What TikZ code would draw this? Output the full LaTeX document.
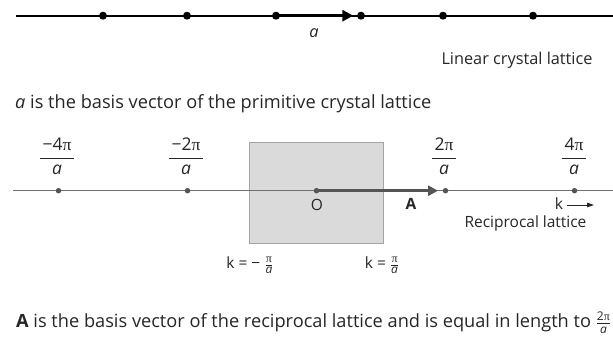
\documentclass[tikz,border=0pt]{standalone}
\usepackage{fontspec}
\setmainfont{Open Sans}
\newfontfamily\pifont{Liberation Serif}
\usetikzlibrary{arrows.meta}
\definecolor{txt}{HTML}{262626}
\definecolor{rline}{HTML}{707070}
\definecolor{rdark}{HTML}{555555}
\definecolor{boxfill}{HTML}{DADADA}
\definecolor{boxedge}{HTML}{A4A4A4}
\newcommand{\piglyph}{{\pifont π}}
\newcommand{\bigfrac}[2]{$\displaystyle\frac{\mbox{\,#1\,}}{\mbox{\itshape #2}}$}
\newcommand{\smallfrac}[3]{$\frac{\mbox{\fontsize{#1}{#1}\selectfont #2}}{\mbox{\fontsize{#1}{#1}\selectfont\itshape #3}}$}
\tikzset{
  lbl/.style={font=\fontsize{16.3}{19}\selectfont, text=txt, inner sep=0pt},
  sent/.style={font=\fontsize{18.2}{21}\selectfont, text=txt, inner sep=0pt},
  sm/.style={font=\fontsize{15.5}{18}\selectfont, text=txt, inner sep=0pt},
  fr/.style={font=\fontsize{17.5}{20}\selectfont, text=txt, inner sep=0pt, anchor=base},
  bdot/.style={circle, fill=black, inner sep=0pt, minimum size=8pt},
  rdot/.style={circle, fill=rdark, inner sep=0pt, minimum size=5.5pt},
}
\begin{document}
\begin{tikzpicture}[x=1pt,y=-1pt]
\useasboundingbox (0,0) rectangle (613,341);
% ---------- linear crystal lattice ----------
\coordinate (tl) at (15.7,15.7);
\coordinate (tr) at (613,15.7);
\draw[line width=2pt] (tl) -- (tr);
\foreach \n/\x in {d1/103,d2/187,d3/276,d4/361,d5/443,d6/533}
  \node[bdot] (\n) at (\x,15.7) {};
\draw[line width=3.2pt, -{Triangle[length=11pt,width=11pt]}, shorten >=3.5pt] (d3.center) -- (d4.west);
\node[lbl] (la) at (314,33) {\itshape a};
\node[lbl] (lin) at (517,60) {Linear crystal lattice};
\node[sent, anchor=west] (t1) at (15,104) {\itshape a\upshape\ is the basis vector of the primitive crystal lattice};
% ---------- reciprocal lattice ----------
\node[draw=boxedge, fill=boxfill, line width=0.8pt, minimum width=134pt, minimum height=101pt, inner sep=0pt] (bz) at (316,192.5) {};
\coordinate (rl) at (13,190.7);
\coordinate (rr) at (613,190.7);
\draw[rline, line width=1.5pt] (rl) -- (rr);
\foreach \n/\x in {r1/58.5,r2/187.5,r3/316.5,r4/445.5,r5/574.5}
  \node[rdot] (\n) at (\x,190.7) {};
\draw[rdark, line width=3.4pt, -{Triangle[length=10pt,width=10pt]}, shorten >=4.5pt] (r3.center) -- (r4.west);
\node[fr] (f1) at (57,162.3) {\bigfrac{−4\piglyph}{a}};
\node[fr] (f2) at (186,162.3) {\bigfrac{−2\piglyph}{a}};
\node[fr] (f4) at (444,162.3) {\bigfrac{2\piglyph}{a}};
\node[fr] (f5) at (574,162.3) {\bigfrac{4\piglyph}{a}};
\node[sm] (lo) at (317,205) {O};
\node[sm] (lA) at (411,204) {\bfseries A};
\node[sm] (lk) at (559,204) {k};
\coordinate (ka) at (567,205);
\coordinate (kb) at (594,205);
\draw[txt, line width=0.9pt, -{Triangle[length=7pt,width=4.5pt]}] (ka) -- (kb);
\node[sm] (rec) at (525.5,223) {Reciprocal lattice};
\node[sm] (km) at (250,265) {k = − \smallfrac{12}{\piglyph}{a}};
\node[sm] (kp) at (382,265) {k = \smallfrac{12}{\piglyph}{a}};
\node[sent, anchor=west] (t2) at (16,323) {\bfseries A\mdseries\ is the basis vector of the reciprocal lattice and is equal in length to \smallfrac{12}{2\piglyph}{a}};
\end{tikzpicture}
\end{document}
